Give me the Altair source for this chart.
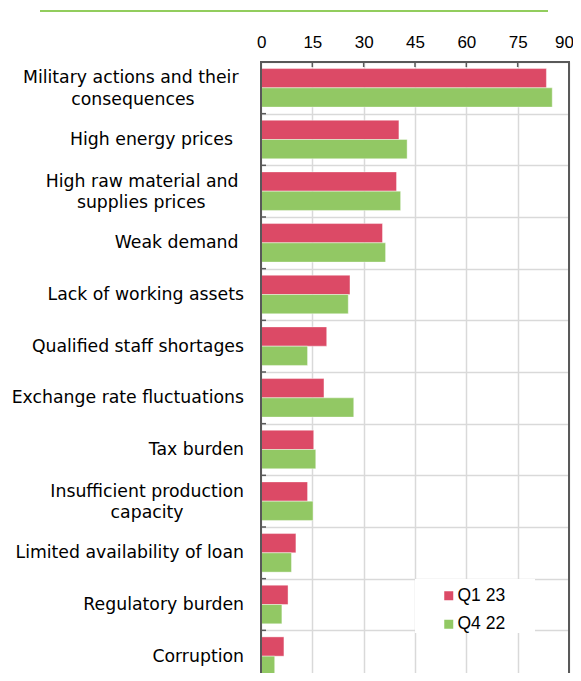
import json
import altair as alt
import pandas as pd

categories = [
    "Military actions and their consequences",
    "High energy prices",
    "High raw material and supplies prices",
    "Weak demand",
    "Lack of working assets",
    "Qualified staff shortages",
    "Exchange rate fluctuations",
    "Tax burden",
    "Insufficient production capacity",
    "Limited availability of loan",
    "Regulatory burden",
    "Corruption",
]
NB = "\u00a0"
ZW = "\u200b"
label_lines = [
    ["Military actions and their" + NB + ZW, "consequences" + NB * 9 + ZW],
    ["High energy prices" + NB * 2 + ZW],
    ["High raw material and" + NB + ZW, "supplies prices" + NB * 7 + ZW],
    ["Weak demand" + NB + ZW],
    ["Lack of working assets"],
    ["Qualified staff shortages"],
    ["Exchange rate fluctuations"],
    ["Tax burden"],
    ["Insufficient production", "capacity" + NB * 11 + ZW],
    ["Limited availability of loan"],
    ["Regulatory burden"],
    ["Corruption"],
]
q1_23 = [83.4, 40.3, 39.6, 35.5, 26.0, 19.2, 18.4, 15.4, 13.6, 10.2, 7.9, 6.7]
q4_22 = [85.1, 42.7, 40.8, 36.4, 25.5, 13.6, 27.1, 16.0, 15.2, 8.9, 6.1, 4.0]
series = ["Q1 23", "Q4 22"]
ticks = [0, 15, 30, 45, 60, 75, 90]

RED = "#DC4A66"
GREEN = "#92C864"
FRAME = "#595959"
GRID = "#D9D9D9"

rows = []
for c, a, b in zip(categories, q1_23, q4_22):
    rows.append({"cat": c, "series": series[0], "value": a})
    rows.append({"cat": c, "series": series[1], "value": b})
df = pd.DataFrame(rows)

mapping = json.dumps(dict(zip(categories, label_lines)), ensure_ascii=False)
two_line = json.dumps([c for c, l in zip(categories, label_lines) if len(l) > 1])

y_axis = alt.Axis(
    title=None, tickBand="extent", grid=True, gridColor=GRID, gridWidth=1.5,
    ticks=False, domain=False, labelFont="DejaVu Sans", labelFontSize=17.3,
    labelColor="#000", labelPadding=17.5, labelLineHeight=21.7, labelLimit=400,
    labelAlign="right", labelBaseline="middle",
    labelOffset={"condition": {"test": f"indexof({two_line}, datum.value) >= 0",
                               "value": -10}, "value": 0},
    labelExpr=mapping + "[datum.label]",
)
y_scale = alt.Scale(paddingInner=0, paddingOuter=0)
x_axis = alt.Axis(
    orient="top", values=ticks, title=None, ticks=False, domain=False,
    grid=True, gridColor=GRID, gridWidth=1.5, labelFont="Liberation Sans",
    labelFontSize=17, labelColor="#000", labelPadding=15,
    labelBaseline="alphabetic", labelFlush=True, labelFlushOffset=4.5,
)
x_scale = alt.Scale(domain=[0, 90], nice=False)

bars = alt.Chart(df).mark_bar(stroke="white", strokeWidth=1, strokeOpacity=0.4).encode(
    y=alt.Y("cat:N", sort=categories, scale=y_scale, axis=y_axis),
    yOffset=alt.YOffset("series:N", sort=series,
                        scale=alt.Scale(paddingInner=0, paddingOuter=0.34)),
    x=alt.X("value:Q", scale=x_scale, axis=x_axis),
    color=alt.Color("series:N", sort=series,
                    scale=alt.Scale(domain=series, range=[RED, GREEN]),
                    legend=alt.Legend(
                        orient="none", legendX=179, legendY=525, title=None,
                        symbolType="square", symbolSize=81, symbolStrokeWidth=0,
                        symbolOpacity=1, labelFont="Liberation Sans",
                        labelFontSize=17.5, labelColor="#000", labelOffset=0,
                        rowPadding=9.5, padding=0)),
)

one = pd.DataFrame({"k": [0]})
box = alt.Chart(one).mark_rect(color="white").encode(
    x=alt.value(154), x2=alt.value(274), y=alt.value(517), y2=alt.value(571))

left_ticks = alt.Chart(pd.DataFrame({"cat": categories})).mark_rule(
    color=FRAME, strokeWidth=1.5).encode(
    y=alt.Y("cat:N", sort=categories, scale=y_scale, axis=y_axis, bandPosition=0),
    x=alt.value(0), x2=alt.value(5))

top_ticks = alt.Chart(pd.DataFrame({"value": ticks[1:-1]})).mark_rule(
    color=FRAME, strokeWidth=1.5).encode(
    x=alt.X("value:Q", scale=x_scale, axis=x_axis),
    y=alt.value(0), y2=alt.value(5))

frame_left = alt.Chart(one).mark_rule(color=FRAME, strokeWidth=2).encode(
    x=alt.value(0), y=alt.value(-1), y2=alt.value(625))
frame_right = alt.Chart(one).mark_rule(color=FRAME, strokeWidth=2).encode(
    x=alt.value(308), y=alt.value(-1), y2=alt.value(625))
frame_top = alt.Chart(one).mark_rule(color=FRAME, strokeWidth=1.8).encode(
    x=alt.value(-1), x2=alt.value(309), y=alt.value(0))

top_line = alt.Chart(one).mark_rule(color="#92CD5D", strokeWidth=2).encode(
    x=alt.value(-221), x2=alt.value(287), y=alt.value(-51))

chart = alt.layer(
    bars, box, left_ticks, top_ticks, frame_left, frame_right, frame_top, top_line
).properties(
    width=308, height=620,
    autosize=alt.AutoSizeParams(type="none"),
    padding={"left": 253, "top": 54, "right": 4, "bottom": -9},
).configure_view(strokeWidth=0)

chart.save("out.html", embed_options={"renderer": "svg", "actions": False})
